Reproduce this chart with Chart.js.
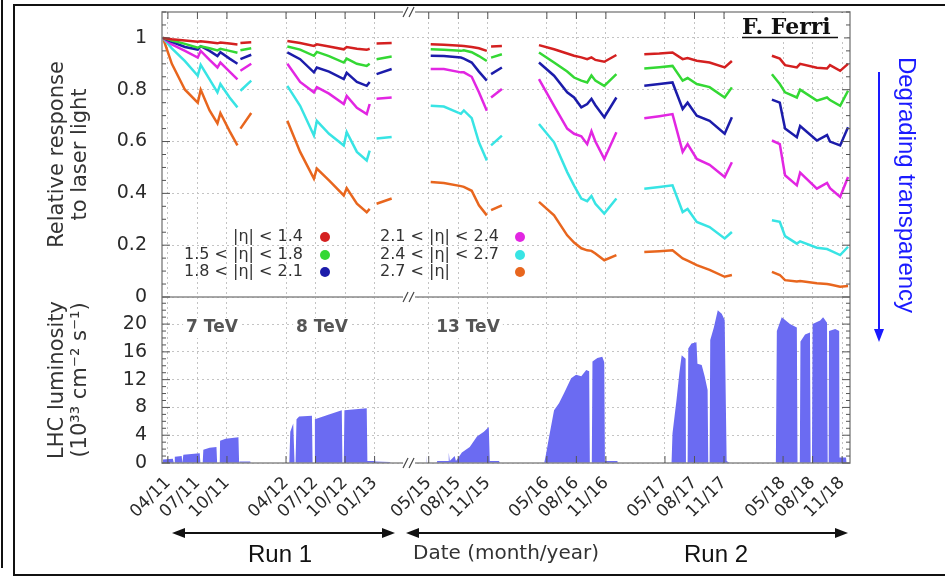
<!DOCTYPE html>
<html>
<head>
<meta charset="utf-8">
<script src="https://cdn.jsdelivr.net/npm/chart.js@4.4.1/dist/chart.umd.min.js"></script>
<style>
  html, body { margin: 0; padding: 0; background: #fff; }
  #wrap { position: relative; width: 945px; height: 577px; }
</style>
</head>
<body>
<div id="wrap"><canvas id="transparency" width="945" height="577"></canvas></div>
<script>
// ---- axis: months since Jan 2011, with the 2013-2015 shutdown cut out ----
const axisStart = '2011-03-13';
const axisEnd = '2018-11-25';
const breakDate = '2015-03-01';
const GAP = 22.5;            // months removed from the axis at the break

const tickLabels = ['04/11', '07/11', '10/11', '04/12', '07/12', '10/12', '01/13',
  '05/15', '08/15', '11/15', '05/16', '08/16', '11/16',
  '05/17', '08/17', '11/17', '05/18', '08/18', '11/18'];
const respTicks = [0, 0.2, 0.4, 0.6, 0.8, 1];
const lumTicks = [0, 4, 8, 12, 16, 20];

const etaLabels = ['|η| < 1.4', '1.5 < |η| < 1.8', '1.8 < |η| < 2.1',
  '2.1 < |η| < 2.4', '2.4 < |η| < 2.7', '2.7 < |η|'];
const etaColors = ['#d42020', '#34d834', '#1c1caa', '#e226e2', '#38e4e4', '#e8661e'];

// ---- relative response to laser light (null = no data) ----
const respDates = [
  '2011-03-16', '2011-04-13', '2011-05-23', '2011-07-02', '2011-07-11', '2011-08-08', '2011-09-02', '2011-09-11', '2011-10-09', '2011-11-03',
  '2011-11-08',
  '2011-11-12', '2011-12-15',
  '2012-02-01',
  '2012-04-05', '2012-05-14', '2012-06-26', '2012-07-05', '2012-08-12', '2012-09-27', '2012-10-06', '2012-11-07', '2012-12-07', '2012-12-16',
  '2012-12-28',
  '2013-01-07', '2013-02-23',
  '2015-04-01',
  '2015-05-07', '2015-06-17', '2015-08-09', '2015-08-18', '2015-09-12', '2015-10-04', '2015-10-28',
  '2015-11-05',
  '2015-11-11', '2015-12-14',
  '2016-02-01',
  '2016-04-07', '2016-05-23', '2016-07-03', '2016-07-24', '2016-08-16', '2016-09-04', '2016-09-17', '2016-09-29', '2016-10-26', '2016-12-03',
  '2017-01-15',
  '2017-02-28', '2017-04-14', '2017-05-24', '2017-06-25', '2017-07-10', '2017-08-08', '2017-09-17', '2017-11-03', '2017-11-25',
  '2018-01-15',
  '2018-03-27', '2018-04-21', '2018-05-07', '2018-06-13', '2018-06-23', '2018-08-14', '2018-09-15', '2018-09-24', '2018-10-25', '2018-11-19'
];

const respEta14 = [
  1.0, 0.995, 0.99, 0.985, 0.987, 0.983, 0.979, 0.982, 0.978, 0.975, null, 0.98, 0.983, null,
  0.988, 0.98, 0.969, 0.975, 0.967, 0.956, 0.965, 0.958, 0.954, 0.958, null, 0.978, 0.98, null,
  0.976, 0.974, 0.97, 0.969, 0.965, 0.96, 0.95, null, 0.967, 0.969, null,
  0.972, 0.956, 0.94, 0.931, 0.925, 0.918, 0.925, 0.915, 0.908, 0.934, null,
  0.937, 0.94, 0.944, 0.918, 0.922, 0.912, 0.905, 0.886, 0.911, null,
  0.931, 0.92, 0.895, 0.886, 0.9, 0.885, 0.882, 0.895, 0.873, 0.9
];
const respEta18 = [
  1.0, 0.99, 0.977, 0.962, 0.968, 0.96, 0.952, 0.958, 0.95, 0.943, null, 0.952, 0.96, null,
  0.967, 0.955, 0.931, 0.946, 0.93, 0.905, 0.92, 0.9, 0.892, 0.9, null, 0.918, 0.928, null,
  0.956, 0.954, 0.95, 0.952, 0.945, 0.93, 0.911, null, 0.924, 0.937, null,
  0.944, 0.905, 0.87, 0.847, 0.835, 0.828, 0.855, 0.835, 0.815, 0.86, null,
  0.882, 0.887, 0.892, 0.835, 0.845, 0.822, 0.81, 0.77, 0.809, null,
  0.86, 0.822, 0.79, 0.77, 0.8, 0.758, 0.77, 0.76, 0.738, 0.796
];
const respEta21 = [
  1.0, 0.985, 0.965, 0.955, 0.968, 0.95, 0.93, 0.945, 0.92, 0.9, null, 0.918, 0.935, null,
  0.944, 0.918, 0.867, 0.886, 0.87, 0.841, 0.865, 0.83, 0.815, 0.83, null, 0.86, 0.88, null,
  0.931, 0.93, 0.924, 0.92, 0.905, 0.87, 0.835, null, 0.86, 0.886, null,
  0.905, 0.854, 0.79, 0.77, 0.732, 0.745, 0.765, 0.74, 0.694, 0.77, null,
  0.815, 0.822, 0.828, 0.726, 0.75, 0.7, 0.68, 0.63, 0.694, null,
  0.762, 0.75, 0.65, 0.617, 0.66, 0.604, 0.625, 0.6, 0.585, 0.655
];
const respEta24 = [
  1.0, 0.975, 0.95, 0.924, 0.95, 0.915, 0.886, 0.905, 0.87, 0.84, null, 0.873, 0.9, null,
  0.9, 0.83, 0.79, 0.81, 0.785, 0.745, 0.776, 0.73, 0.706, 0.745, null, 0.765, 0.77, null,
  0.88, 0.88, 0.867, 0.867, 0.85, 0.79, 0.719, null, 0.77, 0.803, null,
  0.841, 0.738, 0.65, 0.63, 0.62, 0.59, 0.64, 0.6, 0.533, 0.636, null,
  0.69, 0.698, 0.706, 0.56, 0.59, 0.533, 0.51, 0.463, 0.52, null,
  0.604, 0.59, 0.47, 0.431, 0.48, 0.418, 0.44, 0.42, 0.386, 0.463
];
const respEta27 = [
  1.0, 0.96, 0.91, 0.854, 0.896, 0.84, 0.79, 0.822, 0.77, 0.732, null, 0.796, 0.835, null,
  0.815, 0.738, 0.623, 0.68, 0.63, 0.585, 0.636, 0.56, 0.527, 0.565, null, 0.612, 0.618, null,
  0.738, 0.735, 0.707, 0.72, 0.69, 0.597, 0.527, null, 0.585, 0.623, null,
  0.668, 0.597, 0.482, 0.43, 0.38, 0.37, 0.39, 0.36, 0.322, 0.38, null,
  0.418, 0.425, 0.431, 0.328, 0.34, 0.29, 0.27, 0.226, 0.251, null,
  0.296, 0.29, 0.235, 0.206, 0.215, 0.19, 0.185, 0.18, 0.162, 0.194
];
const respEtaFwd = [
  1.0, 0.9, 0.8, 0.75, 0.8, 0.72, 0.67, 0.71, 0.64, 0.585, null, 0.65, 0.71, null,
  0.68, 0.56, 0.457, 0.496, 0.45, 0.392, 0.42, 0.36, 0.327, 0.34, null, 0.36, 0.38, null,
  0.444, 0.44, 0.428, 0.425, 0.41, 0.354, 0.315, null, 0.335, 0.354, null,
  0.367, 0.315, 0.238, 0.21, 0.188, 0.18, 0.178, 0.168, 0.142, 0.162, null,
  0.174, 0.177, 0.18, 0.149, 0.14, 0.123, 0.105, 0.078, 0.085, null,
  0.097, 0.085, 0.065, 0.06, 0.062, 0.053, 0.05, 0.048, 0.04, 0.042
];

// ---- LHC peak luminosity envelope (1e33 cm^-2 s^-1) ----
const lumDates = [
  '2011-03-16', '2011-03-16', '2011-04-16', '2011-04-19', '2011-04-22', '2011-04-22', '2011-05-13', '2011-05-15',
  '2011-05-16', '2011-05-18', '2011-07-08', '2011-07-10', '2011-07-17', '2011-07-19', '2011-08-08', '2011-08-29',
  '2011-09-01', '2011-09-09', '2011-09-10', '2011-09-27', '2011-11-06', '2011-11-08', '2011-11-09', '2011-12-12', '2011-12-13',
  '2012-04-11', '2012-04-14', '2012-04-23', '2012-04-27', '2012-04-30', '2012-05-03', '2012-05-11', '2012-06-20',
  '2012-06-22', '2012-06-28', '2012-06-29', '2012-08-12', '2012-09-21', '2012-09-23', '2012-09-27', '2012-09-29',
  '2012-12-07', '2012-12-09', '2012-12-31', '2013-01-01', '2013-01-03', '2013-02-17', '2013-02-20',
  '2015-04-23', '2015-04-25', '2015-04-26', '2015-05-25', '2015-05-27', '2015-06-17', '2015-06-30', '2015-07-02',
  '2015-07-05', '2015-07-20', '2015-07-24', '2015-08-12', '2015-09-06', '2015-09-28', '2015-10-19', '2015-11-04',
  '2015-11-07', '2015-12-05', '2015-12-08',
  '2016-04-23', '2016-04-29', '2016-05-08', '2016-05-23', '2016-06-08', '2016-06-24', '2016-07-15', '2016-07-30',
  '2016-08-16', '2016-09-01', '2016-09-10', '2016-09-12', '2016-09-18', '2016-09-20', '2016-10-05', '2016-10-20',
  '2016-10-26', '2016-10-28', '2016-12-06', '2016-12-07',
  '2017-04-23', '2017-04-24', '2017-04-25', '2017-05-21', '2017-05-24', '2017-06-06', '2017-06-15', '2017-06-22',
  '2017-07-04', '2017-07-05', '2017-07-10', '2017-07-12', '2017-07-22', '2017-08-07', '2017-08-10', '2017-08-23',
  '2017-09-02', '2017-09-11', '2017-09-13', '2017-09-17', '2017-09-19', '2017-09-30', '2017-10-12', '2017-10-24',
  '2017-11-03', '2017-11-09', '2017-11-18',
  '2018-04-09', '2018-04-12', '2018-04-27', '2018-05-22', '2018-06-13', '2018-06-15', '2018-06-22', '2018-06-24',
  '2018-07-08', '2018-07-23', '2018-07-25', '2018-07-29', '2018-07-31', '2018-08-24', '2018-09-03', '2018-09-15',
  '2018-09-17', '2018-09-20', '2018-09-21', '2018-10-10', '2018-10-22', '2018-10-23', '2018-11-13', '2018-11-15'
];
const lumValues = [
  0, 0.5, 0.6, 0, 0, 0.9, 1.0, 0,
  0, 1.2, 1.4, 0, 0, 1.9, 2.2, 2.3,
  0, 0, 3.2, 3.5, 3.7, 0, 0.2, 0.2, 0,
  0, 4.5, 5.7, 0, 0, 6.3, 6.7, 6.8,
  0, 0, 6.3, 7.0, 7.6, 0, 0, 7.6,
  7.9, 0.3, 0.3, 1.2, 0.2, 0.15, 0,
  0, 1.2, 0, 0, 0.3, 0.3, 0.3, 1.5,
  0.3, 1.0, 0.3, 1.5, 2.3, 3.8, 4.5, 5.2,
  0.3, 0.3, 0,
  0, 1.4, 3.8, 7.6, 8.6, 10.1, 12.2, 12.7,
  12.5, 13.4, 13.2, 0, 0, 14.6, 15.1, 15.3,
  14.5, 0.3, 0.3, 0,
  0, 1.4, 0, 0, 4.3, 9.0, 13.0, 15.5,
  15.0, 0, 0, 16.5, 17.2, 17.4, 14.3, 14.1,
  12.5, 10.5, 0, 0, 17.7, 19.5, 22.0, 21.5,
  20.6, 0.3, 0,
  0, 19.0, 21.0, 20.0, 19.5, 0, 0, 17.5,
  18.5, 18.8, 0, 0, 20.0, 20.5, 21.0, 20.2,
  0, 0, 19.0, 19.3, 19.0, 0.8, 0.8, 0
];

function toAxis(dateStr) {
  const [y, m, d] = dateStr.split('-').map(Number);
  const months = (y - 2011) * 12 + (m - 1) + ((d || 1) - 1) / 30;
  return months > 40 ? months - GAP : months;   // anything after mid-2014 sits right of the break
}
function labelToAxis(label) {
  const [mm, yy] = label.split('/');
  return toAxis('20' + yy + '-' + mm + '-01');
}
function points(dates, values) {
  return dates.map((d, i) => ({ x: toAxis(d), y: values[i] }));
}

const respSeries = [respEta14, respEta18, respEta21, respEta24, respEta27, respEtaFwd];
const datasets = respSeries.map((vals, i) => ({
  label: etaLabels[i],
  data: points(respDates, vals),
  yAxisID: 'yResp',
  borderColor: etaColors[i],
  backgroundColor: etaColors[i],
  borderWidth: 2.5,
  pointRadius: 0,
  spanGaps: false,
  fill: false
}));
datasets.push({
  label: 'LHC luminosity',
  data: points(lumDates, lumValues),
  yAxisID: 'yLum',
  borderColor: '#6b6bf2',
  backgroundColor: '#6b6bf2',
  borderWidth: 0,
  pointRadius: 0,
  fill: 'origin'
});

function line(ctx, x1, y1, x2, y2) {
  ctx.beginPath(); ctx.moveTo(x1, y1); ctx.lineTo(x2, y2); ctx.stroke();
}
function head(ctx, x, y, dx, dy) {
  // filled arrow head with tip at (x, y), pointing along (dx, dy)
  const len = 13, half = 5;
  const px = -dy, py = dx;
  ctx.beginPath();
  ctx.moveTo(x, y);
  ctx.lineTo(x - dx * len + px * half, y - dy * len + py * half);
  ctx.lineTo(x - dx * len - px * half, y - dy * len - py * half);
  ctx.closePath();
  ctx.fill();
}
function boxedText(ctx, text, x, y, font, color) {
  ctx.font = font;
  const w = ctx.measureText(text).width;
  ctx.fillStyle = '#fff';
  ctx.fillRect(x - w / 2 - 3, y - 10, w + 6, 20);
  ctx.fillStyle = color;
  ctx.textAlign = 'center';
  ctx.textBaseline = 'middle';
  ctx.fillText(text, x, y);
}
// keep tick labels from pushing the plot area inwards
function noScalePadding(s) {
  s.paddingTop = 0; s.paddingBottom = 0; s.paddingLeft = 0; s.paddingRight = 0;
}

const decor = {
  id: 'decor',
  beforeDraw(chart) {
    const ctx = chart.ctx;
    ctx.save();
    ctx.fillStyle = '#fff';
    ctx.fillRect(0, 0, chart.width, chart.height);
    ctx.restore();
  },
  afterDraw(chart) {
    const { ctx, chartArea: a, scales } = chart;
    const yR = scales.yResp, yL = scales.yLum, xs = scales.x;
    const mid = yR.bottom;
    ctx.save();

    // plot frame and panel divider
    ctx.strokeStyle = '#8a8a8a';
    ctx.lineWidth = 1.5;
    ctx.strokeRect(a.left, a.top, a.width, a.height);
    line(ctx, a.left, mid, a.right, mid);

    // inward tick marks (gnuplot style)
    ctx.strokeStyle = '#555';
    ctx.lineWidth = 1;
    for (let v = 0; v <= 1.1001; v += 0.05) {
      const y = yR.getPixelForValue(v);
      const major = Math.abs(v * 5 - Math.round(v * 5)) < 1e-6;
      const len = major ? 8 : 4;
      line(ctx, a.left, y, a.left + len, y);
      line(ctx, a.right, y, a.right - len, y);
    }
    for (let v = 0; v <= 23; v += 1) {
      const y = yL.getPixelForValue(v);
      const len = v % 4 === 0 ? 8 : 4;
      line(ctx, a.left, y, a.left + len, y);
      line(ctx, a.right, y, a.right - len, y);
    }
    xs.ticks.forEach(t => {
      const x = xs.getPixelForValue(t.value);
      line(ctx, x, a.top, x, a.top + 7);
      line(ctx, x, a.bottom, x, a.bottom - 7);
    });

    // axis break marks
    const bx = xs.getPixelForValue(toAxis(breakDate));
    [a.top, mid, a.bottom].forEach(y => {
      ctx.fillStyle = '#fff';
      ctx.fillRect(bx - 6, y - 3, 12, 6);
      ctx.strokeStyle = '#444';
      ctx.lineWidth = 1.2;
      line(ctx, bx - 6, y + 5, bx - 1, y - 5);
      line(ctx, bx, y + 5, bx + 5, y - 5);
    });

    // legend inside the upper panel
    ctx.font = '16px "DejaVu Sans"';
    ctx.textBaseline = 'middle';
    const rows = [237, 255, 272];
    chart.data.datasets.slice(0, 6).forEach((ds, i) => {
      const col = i < 3 ? 0 : 1;
      const y = rows[i % 3];
      ctx.fillStyle = '#333';
      if (col === 0) {
        ctx.textAlign = 'right';
        ctx.fillText(ds.label, 303, y);
      } else {
        ctx.textAlign = 'left';
        ctx.fillText(ds.label, 380, y);
      }
      ctx.fillStyle = ds.borderColor;
      ctx.beginPath();
      ctx.arc(col === 0 ? 325 : 520, y, 5, 0, Math.PI * 2);
      ctx.fill();
    });

    // author tag
    ctx.fillStyle = '#fff';
    ctx.fillRect(738, 13, 106, 27);
    ctx.font = 'bold 22px "DejaVu Serif"';
    ctx.fillStyle = '#111';
    ctx.textAlign = 'left';
    ctx.textBaseline = 'alphabetic';
    ctx.fillText('F. Ferri', 742, 34);
    ctx.strokeStyle = '#111';
    ctx.lineWidth = 1.5;
    line(ctx, 742, 37.5, 838, 37.5);

    // beam energies
    boxedText(ctx, '7 TeV', 212, 328, 'bold 17px "DejaVu Sans"', '#555');
    boxedText(ctx, '8 TeV', 322, 328, 'bold 17px "DejaVu Sans"', '#555');
    boxedText(ctx, '13 TeV', 468, 328, 'bold 17px "DejaVu Sans"', '#555');

    // degrading transparency arrow
    ctx.strokeStyle = '#1a1aff';
    ctx.fillStyle = '#1a1aff';
    ctx.lineWidth = 2;
    line(ctx, 879, 72, 879, 332);
    head(ctx, 879, 342, 0, 1);
    ctx.save();
    ctx.translate(906, 185);
    ctx.rotate(Math.PI / 2);
    ctx.font = '24px "Liberation Sans"';
    ctx.textAlign = 'center';
    ctx.textBaseline = 'middle';
    ctx.fillText('Degrading transparency', 0, 0);
    ctx.restore();

    // run arrows
    ctx.strokeStyle = '#111';
    ctx.fillStyle = '#111';
    ctx.lineWidth = 2;
    [[172, 395], [406, 848]].forEach(([x1, x2]) => {
      line(ctx, x1 + 8, 533, x2 - 8, 533);
      head(ctx, x1, 533, -1, 0);
      head(ctx, x2, 533, 1, 0);
    });
    ctx.font = '24px "Liberation Sans"';
    ctx.textAlign = 'center';
    ctx.textBaseline = 'middle';
    ctx.fillText('Run 1', 280, 555);
    ctx.fillText('Run 2', 716, 555);

    // outer frame
    ctx.strokeStyle = '#111';
    ctx.lineWidth = 2;
    ctx.strokeRect(14, 5, 940, 570);
    line(ctx, 2, 0, 2, 568);
    ctx.restore();
  }
};

Chart.defaults.font.family = '"DejaVu Sans", sans-serif';
Chart.defaults.color = '#2a2a2a';

const gridOpts = { color: '#c4c4c4', drawTicks: false };
const borderOpts = { display: false, dash: [2, 3] };

new Chart(document.getElementById('transparency').getContext('2d'), {
  type: 'line',
  data: { datasets },
  options: {
    responsive: false,
    animation: false,
    devicePixelRatio: 1,
    layout: { autoPadding: false, padding: { top: 12, right: 95, bottom: 0, left: 0 } },
    plugins: { legend: { display: false }, tooltip: { enabled: false } },
    scales: {
      x: {
        type: 'linear',
        min: toAxis(axisStart),
        max: toAxis(axisEnd),
        afterBuildTicks: s => { s.ticks = tickLabels.map(l => ({ value: labelToAxis(l) })); },
        afterFit: s => { s.height = 114; noScalePadding(s); },
        ticks: { autoSkip: false, minRotation: 45, maxRotation: 45, padding: 10,
                 font: { size: 17 }, callback: (v, i) => tickLabels[i] },
        grid: gridOpts,
        border: borderOpts,
        title: { display: true, text: 'Date (month/year)', font: { size: 20 }, color: '#333',
                 padding: { top: 0, bottom: 11 } }
      },
      yLum: {
        position: 'left',
        stack: 'panels',
        stackWeight: 166,
        min: 0,
        max: 23.9,
        afterBuildTicks: s => { s.ticks = lumTicks.map(v => ({ value: v })); },
        afterFit: s => { s.width = 162; noScalePadding(s); },
        ticks: { autoSkip: false, padding: 15, font: { size: 19 } },
        grid: gridOpts,
        border: borderOpts,
        title: { display: true, text: ['LHC luminosity', '(10³³ cm⁻² s⁻¹)'],
                 font: { size: 21, lineHeight: 1.1 }, color: '#333', padding: { top: 46, bottom: 0 } }
      },
      yResp: {
        position: 'left',
        stack: 'panels',
        stackWeight: 285,
        min: 0,
        max: 1.1,
        afterBuildTicks: s => { s.ticks = respTicks.map(v => ({ value: v })); },
        afterFit: s => { s.width = 162; noScalePadding(s); },
        ticks: { autoSkip: false, padding: 15, font: { size: 19 }, callback: v => String(+v.toFixed(1)) },
        grid: gridOpts,
        border: borderOpts,
        title: { display: true, text: ['Relative response', 'to laser light'],
                 font: { size: 21, lineHeight: 1.1 }, color: '#333', padding: { top: 46, bottom: 0 } }
      }
    }
  },
  plugins: [decor]
});
</script>
</body>
</html>
